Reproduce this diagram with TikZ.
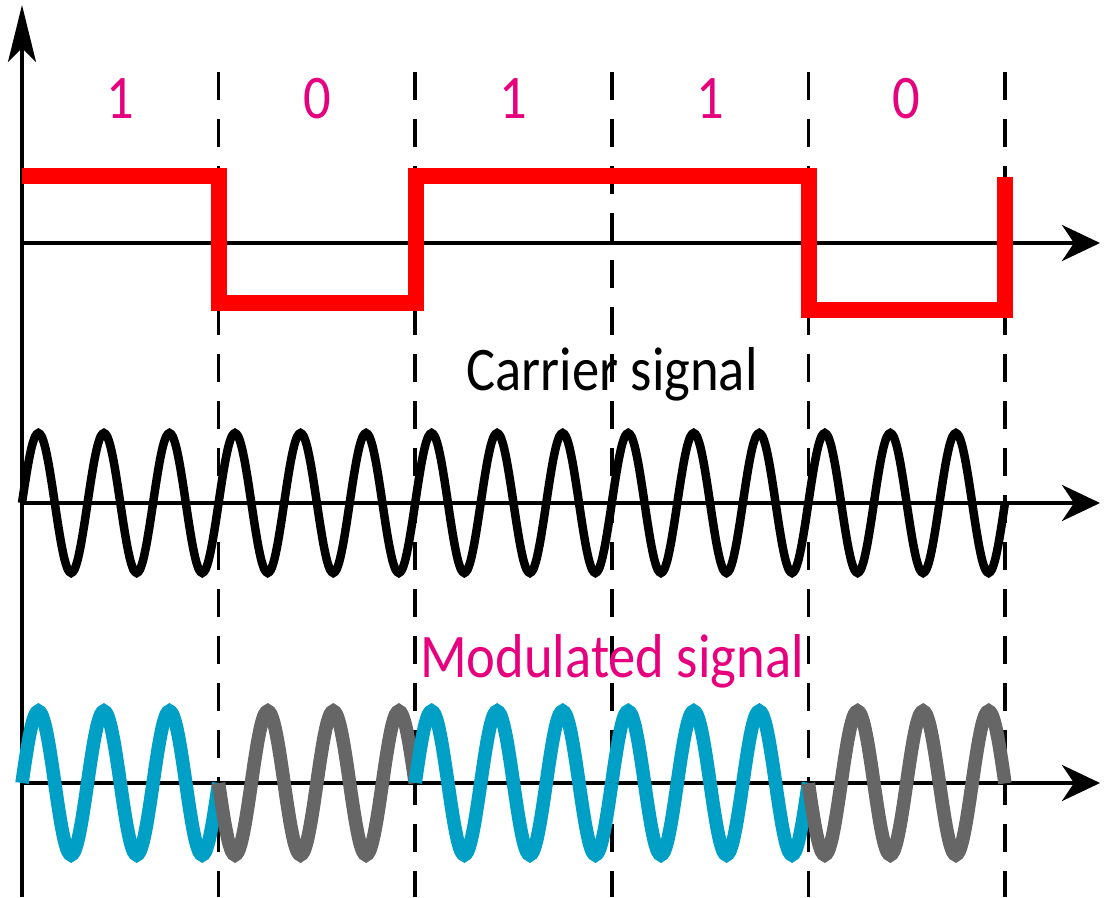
\documentclass[tikz,border=0pt]{standalone}
\usepackage{fontspec}
\usepackage{xcolor}
\newfontfamily\sigfont{Carlito}[FakeStretch=0.88]
\usetikzlibrary{arrows.meta}
\definecolor{bitpink}{HTML}{E6007E}
\definecolor{modblue}{HTML}{00A0C6}
\definecolor{modgray}{HTML}{666666}

\tikzset{
  axis/.style={line width=4pt, -{Stealth[length=38pt,width=36pt,inset=12pt]}},
  bitline/.style={line width=3.5pt, dash pattern=on 28pt off 19pt},
  bitlabel/.style={text=bitpink, anchor=base, inner sep=0pt, font=\sigfont\fontsize{62}{70}\selectfont},
  wave/.style={smooth, samples=61},
}

\begin{document}
\begin{tikzpicture}[x=1pt, y=-1pt]
    \useasboundingbox (0,0) rectangle (1107,897);

    % Bit boundaries
    \foreach \k in {1,...,5}
        \draw[bitline] ({22+196.6*\k},72) -- ({22+196.6*\k},897);

    % Axes
    \draw[line width=3.5pt, -{Stealth[length=57pt,width=28pt,inset=14pt]}] (22,897) -- (22,5);
    \foreach \y in {243,503,783}
        \draw[axis] (22,\y) -- (1100,\y);

    % Data bits
    \foreach \b [count=\k from 0] in {1,0,1,1,0}
        \node[bitlabel] (bit\k) at ({120.3+196.6*\k},118) {\b};
    \draw[red, line width=16pt, line join=miter] (22,176) -- (219,176) -- (219,303) -- (416,303)
        -- (416,176) -- (809,176) -- (809,310) -- (1005,310) -- (1005,177);

    % Carrier
    \node[bitlabel, text=black] (carrier) at (612,390) {Carrier signal};
    \draw[line width=8.5pt, wave, samples=301, domain=22:1005] plot (\x, {503-70*sin((\x-22)*5.4937)});

    % Modulated
    \node[bitlabel] (modulated) at (612,677) {Modulated signal};
    \foreach \b [count=\k from 0] in {1,0,1,1,0} {
        \pgfmathsetmacro{\xa}{22+196.6*\k}
        \pgfmathsetmacro{\xb}{22+196.6*(\k+1)}
        \ifnum\b=1 \def\col{modblue}\def\sg{1}\else\def\col{modgray}\def\sg{-1}\fi
        \draw[\col, line width=13.5pt, wave, domain=\xa:\xb] plot (\x, {783-\sg*72*sin((\x-22)*5.4937)});
    }
\end{tikzpicture}
\end{document}
